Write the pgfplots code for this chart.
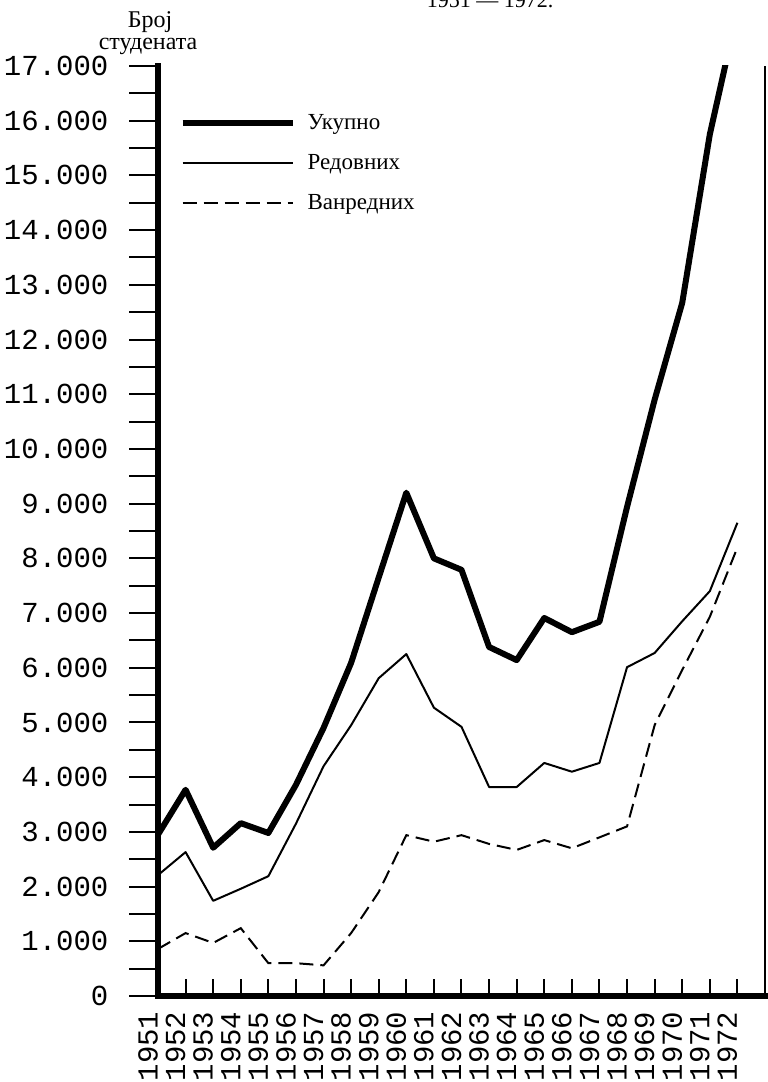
\documentclass[border=0pt]{standalone}
\usepackage{pgfplots}
\usepackage{pgfplotstable}
\pgfplotsset{compat=1.18}
\usepackage{fontspec}
\setmainfont{Liberation Serif}
\newfontfamily\tw{Liberation Mono}

\pgfplotstableread{
year total regular parttime
1951 2950 2210 860
1952 3770 2630 1150
1953 2710 1740 970
1954 3160 1960 1240
1955 2980 2190 600
1956 3860 3150 600
1957 4900 4200 560
1958 6090 4950 1150
1959 7650 5810 1900
1960 9200 6250 2940
1961 8000 5270 2820
1962 7790 4920 2940
1963 6380 3820 2780
1964 6140 3820 2670
1965 6910 4260 2850
1966 6650 4100 2700
1967 6840 4260 2900
1968 8940 6010 3100
1969 10900 6270 4950
1970 12670 6850 5960
1971 15750 7400 6930
1972 18000 8650 8200
}\datatable

\begin{document}
\begin{tikzpicture}
\path[use as bounding box] (0,0) rectangle (383.5pt,541pt);
\begin{axis}[
  at={(79pt,43pt)}, anchor=south west,
  scale only axis, width=303.5pt, height=465pt,
  xmin=1951, xmax=1973, ymin=0, ymax=17000,
  axis x line=bottom, axis y line=left,
  axis line style={-, line width=2.6pt, line cap=rect},
  clip mode=individual,
  no markers,
  scaled y ticks=false, scaled x ticks=false,
  xtick={1951,1952,1953,1954,1955,1956,1957,1958,1959,1960,1961,1962,1963,1964,1965,1966,1967,1968,1969,1970,1971,1972},
  xticklabels={1951,1952,1953,1954,1955,1956,1957,1958,1959,1960,1961,1962,1963,1964,1965,1966,1967,1968,1969,1970,1971,1972},
  xtick style={draw=none},
  xticklabel style={font=\tw\fontsize{14.5}{15}\selectfont, inner sep=0pt, anchor=east, xshift=-5pt, yshift=-0.5pt, rotate=90},
  ytick={0,1000,2000,3000,4000,5000,6000,7000,8000,9000,10000,11000,12000,13000,14000,15000,16000,17000},
  yticklabels={0,1.000,2.000,3.000,4.000,5.000,6.000,7.000,8.000,9.000,10.000,11.000,12.000,13.000,14.000,15.000,16.000,17.000},
  minor ytick={500,1500,2500,3500,4500,5500,6500,7500,8500,9500,10500,11500,12500,13500,14500,15500,16500},
  ytick align=outside,
  major tick length=14.3pt, minor tick length=14.3pt,
  ytick style={line width=1pt, black},
  minor tick style={line width=1pt, black},
  yticklabel style={font=\tw\fontsize{14.5}{15}\selectfont, anchor=east, xshift=-7pt},
  legend cell align=left,
  legend image code/.code={\draw[#1] (0pt,0pt) -- (55pt,0pt); \path (60pt,0pt);},
  legend style={draw=none, fill=none, at={(axis description cs:0.025,0.955)}, anchor=north west,
    font=\fontsize{11.5}{13}\selectfont, row sep=9pt,
    nodes={inner sep=1pt}},
]
\addplot[line width=3pt, line join=round, black] table[x=year,y=total]{\datatable};
\addlegendentry{Укупно}
\addplot[line width=1pt, line join=round, black] table[x=year,y=regular]{\datatable};
\addlegendentry{Редовних}
\addplot[line width=1pt, dash pattern=on 7pt off 3.5pt, black] table[x=year,y=parttime]{\datatable};
\addlegendentry{Ванредних}
\pgfplotsinvokeforeach{1952,...,1972}{\draw[line width=1pt] (axis cs:#1,0) -- ++(0pt,8.3pt);}
\draw[line width=0.8pt] (rel axis cs:1,0) -- (rel axis cs:1,1);
\end{axis}
\node[anchor=base, font=\fontsize{11}{11}\selectfont] at (245pt,537pt) {1951 — 1972.};
\node[anchor=base, font=\fontsize{12}{12}\selectfont] at (75pt,527pt) {Број};
\node[anchor=base, font=\fontsize{12}{12}\selectfont] at (74pt,516pt) {студената};
\end{tikzpicture}
\end{document}
